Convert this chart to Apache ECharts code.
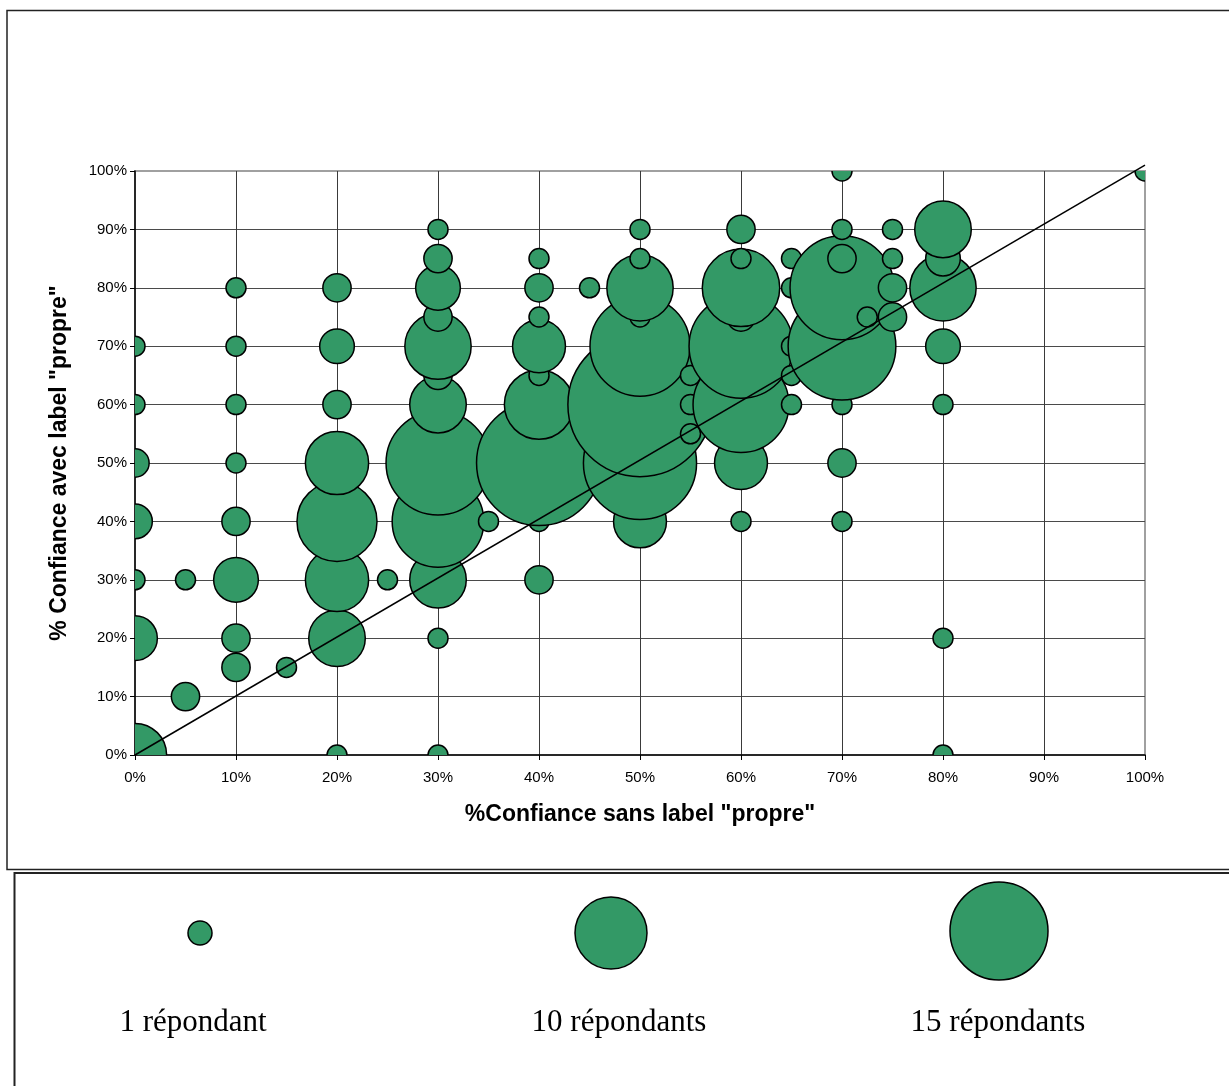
<!DOCTYPE html>
<html>
<head>
<meta charset="utf-8">
<style>
  html, body { margin: 0; padding: 0; background: #ffffff; }
  #chart { width: 1229px; height: 1086px; }
</style>
<script src="https://cdn.jsdelivr.net/npm/echarts@6/dist/echarts.min.js"></script>
</head>
<body>
<div id="chart"></div>
<script>
// Confidence without the "propre" label (x, %), with the label (y, %), and number of respondents per point
const confSans = [
  0, 0, 0, 0, 0, 0, 0,
  5, 5,
  10, 10, 10, 10, 10, 10, 10, 10,
  15,
  20, 20, 20, 20, 20, 20, 20, 20,
  25,
  30, 30, 30, 30, 30, 30, 30, 30, 30, 30, 30, 30,
  35,
  40, 40, 40, 40, 40, 40, 40, 40, 40,
  45,
  50, 50, 50, 50, 50, 50, 50, 50,
  55, 55, 55,
  60, 60, 60, 60, 60, 60, 60, 60,
  65, 65, 65, 65, 65,
  70, 70, 70, 70, 70, 70, 70, 70,
  72.5,
  75, 75, 75, 75,
  80, 80, 80, 80, 80, 80, 80,
  100
];
const confAvec = [
  0, 20, 30, 40, 50, 60, 70,
  10, 30,
  15, 20, 30, 40, 50, 60, 70, 80,
  15,
  0, 20, 30, 40, 50, 60, 70, 80,
  30,
  0, 20, 30, 40, 50, 60, 65, 70, 75, 80, 85, 90,
  40,
  30, 40, 50, 60, 65, 70, 75, 80, 85,
  80,
  40, 50, 60, 70, 75, 80, 85, 90,
  55, 60, 65,
  40, 50, 60, 70, 75, 80, 85, 90,
  60, 65, 70, 80, 85,
  40, 50, 60, 70, 80, 85, 90, 100,
  75,
  75, 80, 85, 90,
  0, 20, 60, 70, 80, 85, 90,
  100
];
const repondants = [
  10, 5, 1, 3, 2, 1, 1,
  2, 1,
  2, 2, 5, 2, 1, 1, 1, 1,
  1,
  1, 8, 10, 16, 10, 2, 3, 2,
  1,
  1, 1, 8, 21, 27, 8, 2, 11, 2, 5, 2, 1,
  1,
  2, 1, 39, 12, 1, 7, 1, 2, 1,
  1,
  7, 32, 52, 25, 1, 11, 1, 1,
  1, 1, 1,
  1, 7, 23, 27, 2, 15, 1, 2,
  1, 1, 1, 1, 1,
  1, 2, 1, 29, 27, 2, 1, 1,
  1,
  2, 2, 1, 1,
  1, 1, 1, 3, 11, 3, 8,
  1
];

// Reference diagonal y = x
const diagonal = [[0, 0], [100, 101]];

// Key entries (number of respondents shown in the key)
const legendLabels = ['1 répondant', '10 répondants', '15 répondants'];

const bubbles = confSans.map((x, i) => [x, confAvec[i], repondants[i]]);

const GREEN = '#339966';
const FONT = '"Liberation Sans", Arial, sans-serif';

const chart = echarts.init(document.getElementById('chart'), null, { renderer: 'canvas' });

// Key layout: circle centres / radii and label positions
const legendCenters = [[200, 933, 12], [611, 933, 36], [999, 931, 49]];
const legendTextX = [193, 619, 998];

const graphics = [
  { type: 'rect', z: 0, silent: true,
    shape: { x: 7, y: 10.5, width: 1250, height: 859 },
    style: { fill: 'none', stroke: '#222', lineWidth: 1.5 } },
  { type: 'rect', z: 0, silent: true,
    shape: { x: 14.5, y: 873, width: 1250, height: 260 },
    style: { fill: 'none', stroke: '#222', lineWidth: 2 } }
];
legendLabels.forEach((label, i) => {
  const c = legendCenters[i];
  graphics.push({ type: 'circle', silent: true,
    shape: { cx: c[0], cy: c[1], r: c[2] },
    style: { fill: GREEN, stroke: '#000', lineWidth: 1.5 } });
  graphics.push({ type: 'text', silent: true,
    x: legendTextX[i], y: 1023,
    style: { text: label, fill: '#000', font: '31px "Liberation Serif", "Times New Roman", serif',
      align: 'center', verticalAlign: 'middle' } });
});

chart.setOption({
  animation: false,
  backgroundColor: '#ffffff',
  grid: {
    left: 135, top: 171, width: 1010, height: 584,
    show: true, borderColor: '#a0a0a0', borderWidth: 2, backgroundColor: 'transparent'
  },
  xAxis: {
    type: 'value', min: 0, max: 100, interval: 10,
    name: '%Confiance sans label "propre"',
    nameLocation: 'middle', nameGap: 48,
    nameTextStyle: { fontFamily: FONT, fontSize: 23, fontWeight: 'bold', color: '#000' },
    axisLine: { show: true, onZero: false, lineStyle: { color: '#000', width: 1.5 } },
    axisTick: { show: true, length: 5, lineStyle: { color: '#000' } },
    axisLabel: { formatter: '{value}%', fontFamily: FONT, fontSize: 15, color: '#000', margin: 15 },
    splitLine: { show: true, showMaxLine: false, showMinLine: false, lineStyle: { color: '#3a3a3a', width: 1 } }
  },
  yAxis: {
    type: 'value', min: 0, max: 100, interval: 10,
    name: '% Confiance avec label "propre"',
    nameLocation: 'middle', nameGap: 64, nameRotate: 90,
    nameTextStyle: { fontFamily: FONT, fontSize: 23, fontWeight: 'bold', color: '#000' },
    axisLine: { show: true, onZero: false, lineStyle: { color: '#000', width: 1.5 } },
    axisTick: { show: true, length: 5, lineStyle: { color: '#000' } },
    axisLabel: { formatter: '{value}%', fontFamily: FONT, fontSize: 15, color: '#000', margin: 8 },
    splitLine: { show: true, showMaxLine: false, showMinLine: false, lineStyle: { color: '#4a4a4a', width: 1 } }
  },
  series: [
    {
      // bubbles: area proportional to the number of respondents, clipped to the plot area
      type: 'custom',
      data: bubbles,
      encode: { x: 0, y: 1 },
      clip: true,
      z: 3,
      renderItem: (params, api) => {
        const p = api.coord([api.value(0), api.value(1)]);
        const r = 10 * Math.sqrt(api.value(2));
        return {
          type: 'circle',
          shape: { cx: p[0], cy: p[1], r: r },
          style: { fill: GREEN, stroke: '#000', lineWidth: 1.5 }
        };
      }
    },
    {
      type: 'line',
      data: diagonal,
      clip: false,
      symbol: 'none',
      lineStyle: { color: '#000', width: 1.5 },
      z: 4
    }
  ],
  graphic: graphics
});
</script>
</body>
</html>
